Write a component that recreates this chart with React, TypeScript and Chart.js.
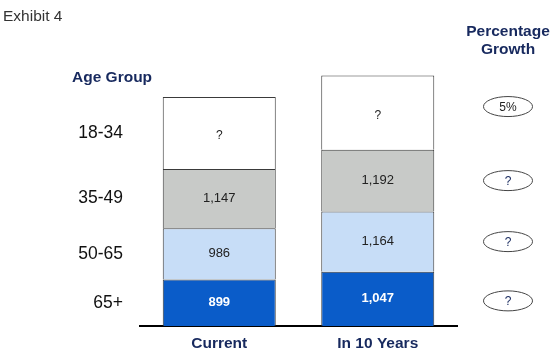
import React, { useEffect, useRef } from "react";
import { Chart, registerables } from "chart.js";

Chart.register(...registerables);

const categories = ["Current", "In 10 Years"];
const ageGroups = ["65+", "50-65", "35-49", "18-34"];
const age65plus = [899, 1047];
const age50to65 = [986, 1164];
const age35to49 = [1147, 1192];
const age18to34 = [1390, 1435]; // estimated heights; shown as "?" in the exhibit
const shownLabels18to34 = ["?", "?"];
const growthLabels = ["?", "?", "?", "5%"]; // same order as ageGroups

const FONT = "Arial, 'Liberation Sans', Helvetica, sans-serif";
const NAVY = "#17295e";

const overlayPlugin = {
  id: "overlay",
  afterDatasetsDraw(chart: any) {
    const ctx = chart.ctx;
    ctx.save();
    // segment labels
    chart.data.datasets.forEach((ds: any, di: number) => {
      const meta = chart.getDatasetMeta(di);
      meta.data.forEach((el: any, i: number) => {
        const cy = (el.y + el.base) / 2;
        let text: string;
        if (di === 3) text = shownLabels18to34[i];
        else text = Number(ds.data[i]).toLocaleString("en-US");
        ctx.textAlign = "center";
        ctx.textBaseline = "middle";
        if (di === 0) {
          ctx.fillStyle = "#ffffff";
          ctx.font = `bold 13px ${FONT}`;
        } else {
          ctx.fillStyle = "#222222";
          ctx.font = di === 3 ? `12px ${FONT}` : `13px ${FONT}`;
        }
        ctx.fillText(text, el.x, cy + (di === 3 ? 3 : 0));
      });
    });
    // left age group labels aligned with the Current bar
    ctx.font = `17.5px ${FONT}`;
    ctx.fillStyle = "#111111";
    ctx.textAlign = "right";
    ctx.textBaseline = "middle";
    ageGroups.forEach((g, di) => {
      const el = chart.getDatasetMeta(di).data[0];
      ctx.fillText(g, 123, (el.y + el.base) / 2);
    });
    // growth ellipses aligned with the In 10 Years bar
    ageGroups.forEach((g, di) => {
      const el = chart.getDatasetMeta(di).data[1];
      let cy = (el.y + el.base) / 2;
      if (di === 3) cy -= 6;
      if (di === 0) cy += 2;
      ctx.beginPath();
      ctx.ellipse(508, cy, 24.5, 10, 0, 0, Math.PI * 2);
      ctx.strokeStyle = "#444444";
      ctx.lineWidth = 1;
      ctx.stroke();
      const t = growthLabels[di];
      ctx.textAlign = "center";
      ctx.textBaseline = "middle";
      ctx.font = `12px ${FONT}`;
      ctx.fillStyle = t === "?" ? NAVY : "#222222";
      ctx.fillText(t, 508, cy + 1);
    });
    // titles
    ctx.textAlign = "left";
    ctx.textBaseline = "middle";
    ctx.font = `15.5px ${FONT}`;
    ctx.fillStyle = "#333333";
    ctx.fillText("Exhibit 4", 3, 17);
    ctx.font = `bold 15.5px ${FONT}`;
    ctx.fillStyle = NAVY;
    ctx.fillText("Age Group", 72, 78);
    ctx.textAlign = "center";
    ctx.fillText("Percentage", 508, 32);
    ctx.fillText("Growth", 508, 50);
    ctx.restore();
  },
};

function App() {
  const ref = useRef<HTMLCanvasElement | null>(null);
  useEffect(() => {
    document.body.style.margin = "0";
    const canvas = ref.current!;
    const chart = new Chart(canvas, {
      type: "bar",
      data: {
        labels: categories,
        datasets: [
          { label: ageGroups[0], data: age65plus, backgroundColor: "#0a5cc9" },
          { label: ageGroups[1], data: age50to65, backgroundColor: "#c7ddf7" },
          { label: ageGroups[2], data: age35to49, backgroundColor: "#c8cac8" },
          { label: ageGroups[3], data: age18to34, backgroundColor: "#ffffff" },
        ].map((d) => ({
          ...d,
          borderColor: "#3a3a3a",
          borderWidth: 1,
          barPercentage: 0.713,
          categoryPercentage: 1,
        })),
      },
      options: {
        animation: false,
        responsive: false,
        maintainAspectRatio: false,
        layout: { padding: { left: 140, right: 96, top: 67, bottom: 0 } },
        plugins: { legend: { display: false }, tooltip: { enabled: false } },
        scales: {
          x: {
            stacked: true,
            grid: { display: false, drawTicks: false },
            border: { display: true, color: "#000000", width: 2 },
            ticks: {
              color: NAVY,
              font: { family: FONT, size: 15.5, weight: "bold" },
              padding: 8,
            },
            afterFit: (s: any) => {
              s.height = 27;
            },
          },
          y: {
            stacked: true,
            display: false,
            min: 0,
            max: 5000,
          },
        },
      },
      plugins: [overlayPlugin],
    } as any);
    return () => chart.destroy();
  }, []);
  return (
    <div style={{ width: 553, height: 353, background: "#ffffff" }}>
      <canvas ref={ref} width={553} height={353} style={{ display: "block" }} />
    </div>
  );
}

export default App;
